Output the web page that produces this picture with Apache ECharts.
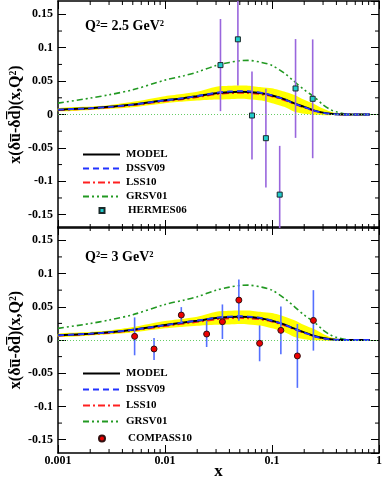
<!DOCTYPE html>
<html>
<head>
<meta charset="utf-8">
<script src="https://cdn.jsdelivr.net/npm/echarts@6/dist/echarts.min.js"></script>
<style>
  html, body { margin: 0; padding: 0; background: #fff; }
  #chart { width: 382px; height: 478px; }
</style>
</head>
<body>
<div id="chart"></div>
<script>
// x grid of the theory curves
const xs = [0.001, 0.002, 0.003, 0.005, 0.01, 0.015, 0.02, 0.03, 0.04, 0.05, 0.06, 0.08,
  0.1, 0.13, 0.16, 0.2, 0.25, 0.3, 0.35, 0.4, 0.5, 0.6, 0.82];

// Q^2 = 2.5 GeV^2 (top panel)
const modelTop = [0.0072, 0.0095, 0.0115, 0.015, 0.0215, 0.0245, 0.0275, 0.032, 0.0335, 0.034, 0.0338, 0.0318,
  0.0285, 0.023, 0.017, 0.0115, 0.0058, 0.0028, 0.0012, 0.0004, 0, 0, 0];
const bandLoTop = [0.0048, 0.0068, 0.0085, 0.011, 0.017, 0.0195, 0.021, 0.0225, 0.023, 0.0235, 0.023, 0.021,
  0.017, 0.0115, 0.0045, 0.001, -0.0005, -0.001, -0.001, -0.0005, 0, 0, 0];
const bandHiTop = [0.0095, 0.012, 0.014, 0.019, 0.0275, 0.031, 0.034, 0.0415, 0.043, 0.0435, 0.0432, 0.041,
  0.0395, 0.0345, 0.0295, 0.022, 0.0155, 0.009, 0.0045, 0.002, 0, 0, 0];
const dssvTop = [0.0072, 0.0094, 0.0113, 0.0148, 0.0213, 0.0245, 0.0277, 0.0325, 0.0345, 0.035, 0.0348, 0.0325,
  0.0288, 0.0228, 0.0165, 0.011, 0.0053, 0.0024, 0.001, 0.0003, 0, 0, 0];
const lssTop = [0.0065, 0.0086, 0.0104, 0.0138, 0.0198, 0.023, 0.0258, 0.0303, 0.0318, 0.0322, 0.032, 0.0302,
  0.027, 0.0215, 0.0158, 0.0103, 0.005, 0.0022, 0.0008, 0.0002, 0, 0, 0];
const grsvTop = [0.017, 0.0245, 0.0295, 0.037, 0.0515, 0.058, 0.0635, 0.0735, 0.078, 0.0805, 0.081, 0.078,
  0.0735, 0.062, 0.05, 0.037, 0.026, 0.0145, 0.0075, 0.004, 0.0005, 0, 0];

// Q^2 = 3 GeV^2 (bottom panel)
const modelBot = [0.007, 0.0095, 0.0115, 0.0155, 0.0225, 0.0265, 0.029, 0.033, 0.0345, 0.035, 0.0345, 0.0325,
  0.029, 0.0235, 0.0175, 0.0115, 0.006, 0.003, 0.0013, 0.0005, 0, 0, 0];
const bandLoBot = [0.0046, 0.0068, 0.0085, 0.0112, 0.0175, 0.02, 0.0215, 0.023, 0.0235, 0.024, 0.0235, 0.0215,
  0.0175, 0.012, 0.005, 0.0012, -0.0005, -0.001, -0.001, -0.0005, 0, 0, 0];
const bandHiBot = [0.0094, 0.012, 0.0142, 0.0195, 0.0285, 0.032, 0.035, 0.0425, 0.044, 0.0445, 0.0442, 0.042,
  0.0405, 0.0355, 0.0302, 0.0225, 0.016, 0.0092, 0.0046, 0.002, 0, 0, 0];
const dssvBot = [0.0071, 0.0095, 0.0115, 0.0154, 0.0224, 0.0265, 0.0292, 0.0335, 0.0352, 0.0358, 0.0353, 0.033,
  0.029, 0.0232, 0.017, 0.0112, 0.0056, 0.0026, 0.0011, 0.0003, 0, 0, 0];
const lssBot = [0.0064, 0.0087, 0.0106, 0.0143, 0.0208, 0.0245, 0.027, 0.031, 0.0325, 0.033, 0.0326, 0.0307,
  0.0275, 0.022, 0.0162, 0.0106, 0.0052, 0.0023, 0.0009, 0.0002, 0, 0, 0];
const grsvBot = [0.0175, 0.0248, 0.03, 0.038, 0.0535, 0.06, 0.065, 0.075, 0.0795, 0.082, 0.0825, 0.0795,
  0.075, 0.063, 0.051, 0.0375, 0.0265, 0.015, 0.0078, 0.004, 0.0005, 0, 0];

// HERMES06 points: x, value, error
const hermesX = [0.033, 0.048, 0.065, 0.0877, 0.118, 0.166, 0.24];
const hermesY = [0.074, 0.1126, -0.0015, -0.0355, -0.12, 0.039, 0.0235];
const hermesErr = [0.069, 0.069, 0.066, 0.074, 0.073, 0.074, 0.089];

// COMPASS10 points: x, value, error
const compassX = [0.0052, 0.0079, 0.0142, 0.0245, 0.0344, 0.049, 0.0766, 0.121, 0.1727, 0.2437];
const compassY = [0.0055, -0.0135, 0.0375, 0.009, 0.0275, 0.06, -0.005, 0.0145, -0.024, 0.0295];
const compassErr = [0.0285, 0.0165, 0.012, 0.0195, 0.026, 0.031, 0.027, 0.036, 0.048, 0.0455];

// minor tick values
const xMinorTicks = [0.002, 0.003, 0.004, 0.005, 0.006, 0.007, 0.008, 0.009,
  0.02, 0.03, 0.04, 0.05, 0.06, 0.07, 0.08, 0.09,
  0.2, 0.3, 0.4, 0.5, 0.6, 0.7, 0.8, 0.9];
const yMinorTicks = [-0.125, -0.075, -0.025, 0.025, 0.075, 0.125];

const zeroLevel = -0.0025;
const yMin = -0.17;
const yMax = 0.17;

const FONT = "'Liberation Serif', 'Times New Roman', serif";
const yTitle = "x(\u03b4u\u0305-\u03b4d\u0305)(x,Q\u00b2)";

const pairs = (a, b) => a.map((v, i) => [v, b[i]]);

function xAxisFor(grid, pos, labels) {
  return {
    type: "log",
    logBase: 10,
    gridIndex: grid,
    position: pos,
    min: 0.001,
    max: 1,
    axisLine: { onZero: false, lineStyle: { color: "#000", width: 1.5 } },
    axisTick: { inside: true, length: 8, lineStyle: { color: "#000", width: 1 } },
    axisLabel: {
      show: labels,
      color: "#000",
      fontFamily: FONT,
      fontWeight: "bold",
      fontSize: 12,
      margin: 2,
    },
    splitLine: { show: false },
  };
}

function yAxisFor(grid, pos, labels) {
  return {
    type: "value",
    gridIndex: grid,
    position: pos,
    min: yMin,
    max: yMax,
    splitNumber: 7,
    name: labels ? yTitle : "",
    nameLocation: "middle",
    nameRotate: 90,
    nameGap: 34,
    nameMoveOverlap: false,
    nameTextStyle: { color: "#000", fontFamily: FONT, fontWeight: "bold", fontSize: 16 },
    axisLine: { onZero: false, lineStyle: { color: "#000", width: 1.5 } },
    axisTick: { inside: true, length: 8, lineStyle: { color: "#000", width: 1 } },
    axisLabel: {
      show: labels,
      showMinLabel: false,
      showMaxLabel: false,
      color: "#000",
      fontFamily: FONT,
      fontWeight: "bold",
      fontSize: 12,
      margin: 5,
    },
    splitLine: { show: false },
  };
}

function clampY(p, cs) {
  return Math.min(Math.max(p, cs.y), cs.y + cs.height);
}

// yellow uncertainty band drawn as one polygon through the axis scales
function bandSeries(grid, lo, hi) {
  return {
    type: "custom",
    xAxisIndex: grid * 2,
    yAxisIndex: grid * 2,
    silent: true,
    z: 1,
    data: xs.map((x, i) => [x, lo[i], hi[i]]),
    renderItem: (params, api) => {
      if (params.dataIndex !== 0) return null;
      const upper = xs.map((x, i) => api.coord([x, hi[i]]));
      const lower = xs.map((x, i) => api.coord([x, lo[i]])).reverse();
      return {
        type: "polygon",
        shape: { points: upper.concat(lower), smooth: 0.25 },
        style: { fill: "#ffff00" },
      };
    },
  };
}

function errorBars(grid, xv, yv, ev, color) {
  return {
    type: "custom",
    xAxisIndex: grid * 2,
    yAxisIndex: grid * 2,
    silent: true,
    z: 4,
    data: xv.map((x, i) => [x, yv[i], ev[i]]),
    renderItem: (params, api) => {
      const cs = params.coordSys;
      const top = api.coord([api.value(0), api.value(1) + api.value(2)]);
      const bot = api.coord([api.value(0), api.value(1) - api.value(2)]);
      return {
        type: "line",
        shape: { x1: top[0], y1: clampY(top[1], cs), x2: bot[0], y2: clampY(bot[1], cs) },
        style: { stroke: color, lineWidth: 1.6 },
      };
    },
  };
}

function minorTicks(grid) {
  return [
    {
      type: "custom",
      xAxisIndex: grid * 2,
      yAxisIndex: grid * 2,
      silent: true,
      z: 6,
      data: xMinorTicks.map((x) => [x, 0]),
      renderItem: (params, api) => {
        const cs = params.coordSys;
        const p = api.coord([api.value(0), 0]);
        return {
          type: "group",
          children: [
            { type: "line", shape: { x1: p[0], y1: cs.y + cs.height, x2: p[0], y2: cs.y + cs.height - 4 }, style: { stroke: "#000", lineWidth: 1 } },
            { type: "line", shape: { x1: p[0], y1: cs.y, x2: p[0], y2: cs.y + 4 }, style: { stroke: "#000", lineWidth: 1 } },
          ],
        };
      },
    },
    {
      type: "custom",
      xAxisIndex: grid * 2,
      yAxisIndex: grid * 2,
      silent: true,
      z: 6,
      data: yMinorTicks.map((y) => [0.01, y]),
      renderItem: (params, api) => {
        const cs = params.coordSys;
        const p = api.coord([0.01, api.value(1)]);
        return {
          type: "group",
          children: [
            { type: "line", shape: { x1: cs.x, y1: p[1], x2: cs.x + 4, y2: p[1] }, style: { stroke: "#000", lineWidth: 1 } },
            { type: "line", shape: { x1: cs.x + cs.width, y1: p[1], x2: cs.x + cs.width - 4, y2: p[1] }, style: { stroke: "#000", lineWidth: 1 } },
          ],
        };
      },
    },
  ];
}

function panelSeries(grid, model, lo, hi, dssv, lss, grsv) {
  const ax = { xAxisIndex: grid * 2, yAxisIndex: grid * 2 };
  return [
    bandSeries(grid, lo, hi),
    {
      ...ax, name: "GRSV01", type: "line", data: pairs(xs, grsv), smooth: 0.3, symbol: "none",
      lineStyle: { color: "#229922", width: 1.6, type: [6, 3, 2, 3, 2, 3] }, z: 2,
      markLine: {
        silent: true, symbol: "none", label: { show: false },
        lineStyle: { color: "#66cc66", width: 1, type: [1, 2] },
        data: [{ yAxis: zeroLevel }],
      },
    },
    {
      ...ax, name: "LSS10", type: "line", data: pairs(xs, lss), smooth: 0.3, symbol: "none",
      lineStyle: { color: "#ff2020", width: 1.6, type: [7, 3, 2, 3] }, z: 3,
    },
    {
      ...ax, name: "MODEL", type: "line", data: pairs(xs, model), smooth: 0.3, symbol: "none",
      lineStyle: { color: "#000", width: 2 }, z: 3,
    },
    {
      ...ax, name: "DSSV09", type: "line", data: pairs(xs, dssv), smooth: 0.3, symbol: "none",
      lineStyle: { color: "#2233ff", width: 1.8, type: [6, 4] }, z: 3,
    },
  ];
}

const legendText = { color: "#000", fontFamily: FONT, fontWeight: "bold", fontSize: 11 };

function lineLegend(top, gap) {
  return {
    orient: "vertical",
    left: 77,
    top: top,
    itemWidth: 37,
    itemHeight: 6,
    itemGap: gap,
    selectedMode: false,
    data: ["MODEL", "DSSV09", "LSS10", "GRSV01"].map((n) => ({ name: n, itemStyle: { opacity: 0 } })),
    textStyle: { ...legendText, padding: [0, 0, 0, 1] },
  };
}

function markerLegend(top, name, size) {
  return {
    orient: "vertical",
    left: 96 - size / 2,
    top: top,
    itemWidth: size,
    itemHeight: size,
    selectedMode: false,
    data: [name],
    textStyle: { ...legendText, padding: [0, 0, 0, 21 - size / 2] },
  };
}

const chart = echarts.init(document.getElementById("chart"));

const option = {
  animation: false,
  backgroundColor: "#fff",
  title: [
    { text: "Q\u00b2= 2.5 GeV\u00b2", left: 80, top: 14, textStyle: { color: "#000", fontFamily: FONT, fontWeight: "bold", fontSize: 14 } },
    { text: "Q\u00b2= 3 GeV\u00b2", left: 80, top: 245, textStyle: { color: "#000", fontFamily: FONT, fontWeight: "bold", fontSize: 14 } },
  ],
  legend: [
    lineLegend(144, 3),
    markerLegend(200, "HERMES06", 5),
    lineLegend(363, 5),
    markerLegend(428, "COMPASS10", 6),
  ],
  grid: [
    { left: 58, right: 3, top: 1, height: 227, outerBoundsMode: "none" },
    { left: 58, right: 3, top: 227, height: 226, outerBoundsMode: "none" },
  ],
  xAxis: [
    xAxisFor(0, "bottom", false),
    xAxisFor(0, "top", false),
    {
      ...xAxisFor(1, "bottom", true),
      name: "x",
      nameLocation: "middle",
      nameGap: 19,
      nameMoveOverlap: false,
      nameTextStyle: { color: "#000", fontFamily: FONT, fontWeight: "bold", fontSize: 17, verticalAlign: "middle" },
    },
    xAxisFor(1, "top", false),
  ],
  yAxis: [
    yAxisFor(0, "left", true),
    yAxisFor(0, "right", false),
    yAxisFor(1, "left", true),
    yAxisFor(1, "right", false),
  ],
  series: [
    ...panelSeries(0, modelTop, bandLoTop, bandHiTop, dssvTop, lssTop, grsvTop),
    ...panelSeries(1, modelBot, bandLoBot, bandHiBot, dssvBot, lssBot, grsvBot),
    errorBars(0, hermesX, hermesY, hermesErr, "#9966dd"),
    errorBars(1, compassX, compassY, compassErr, "#5570ff"),
    {
      name: "HERMES06", type: "scatter", xAxisIndex: 0, yAxisIndex: 0,
      data: pairs(hermesX, hermesY), symbol: "rect", symbolSize: 5, z: 5,
      itemStyle: { color: "#22cccc", borderColor: "#1a2a2a", borderWidth: 1, opacity: 1 },
    },
    {
      name: "COMPASS10", type: "scatter", xAxisIndex: 2, yAxisIndex: 2,
      data: pairs(compassX, compassY), symbol: "circle", symbolSize: 6, z: 5,
      itemStyle: { color: "#ee0000", borderColor: "#331111", borderWidth: 1, opacity: 1 },
    },
    ...minorTicks(0),
    ...minorTicks(1),
  ],
};

chart.setOption(option);
</script>
</body>
</html>
